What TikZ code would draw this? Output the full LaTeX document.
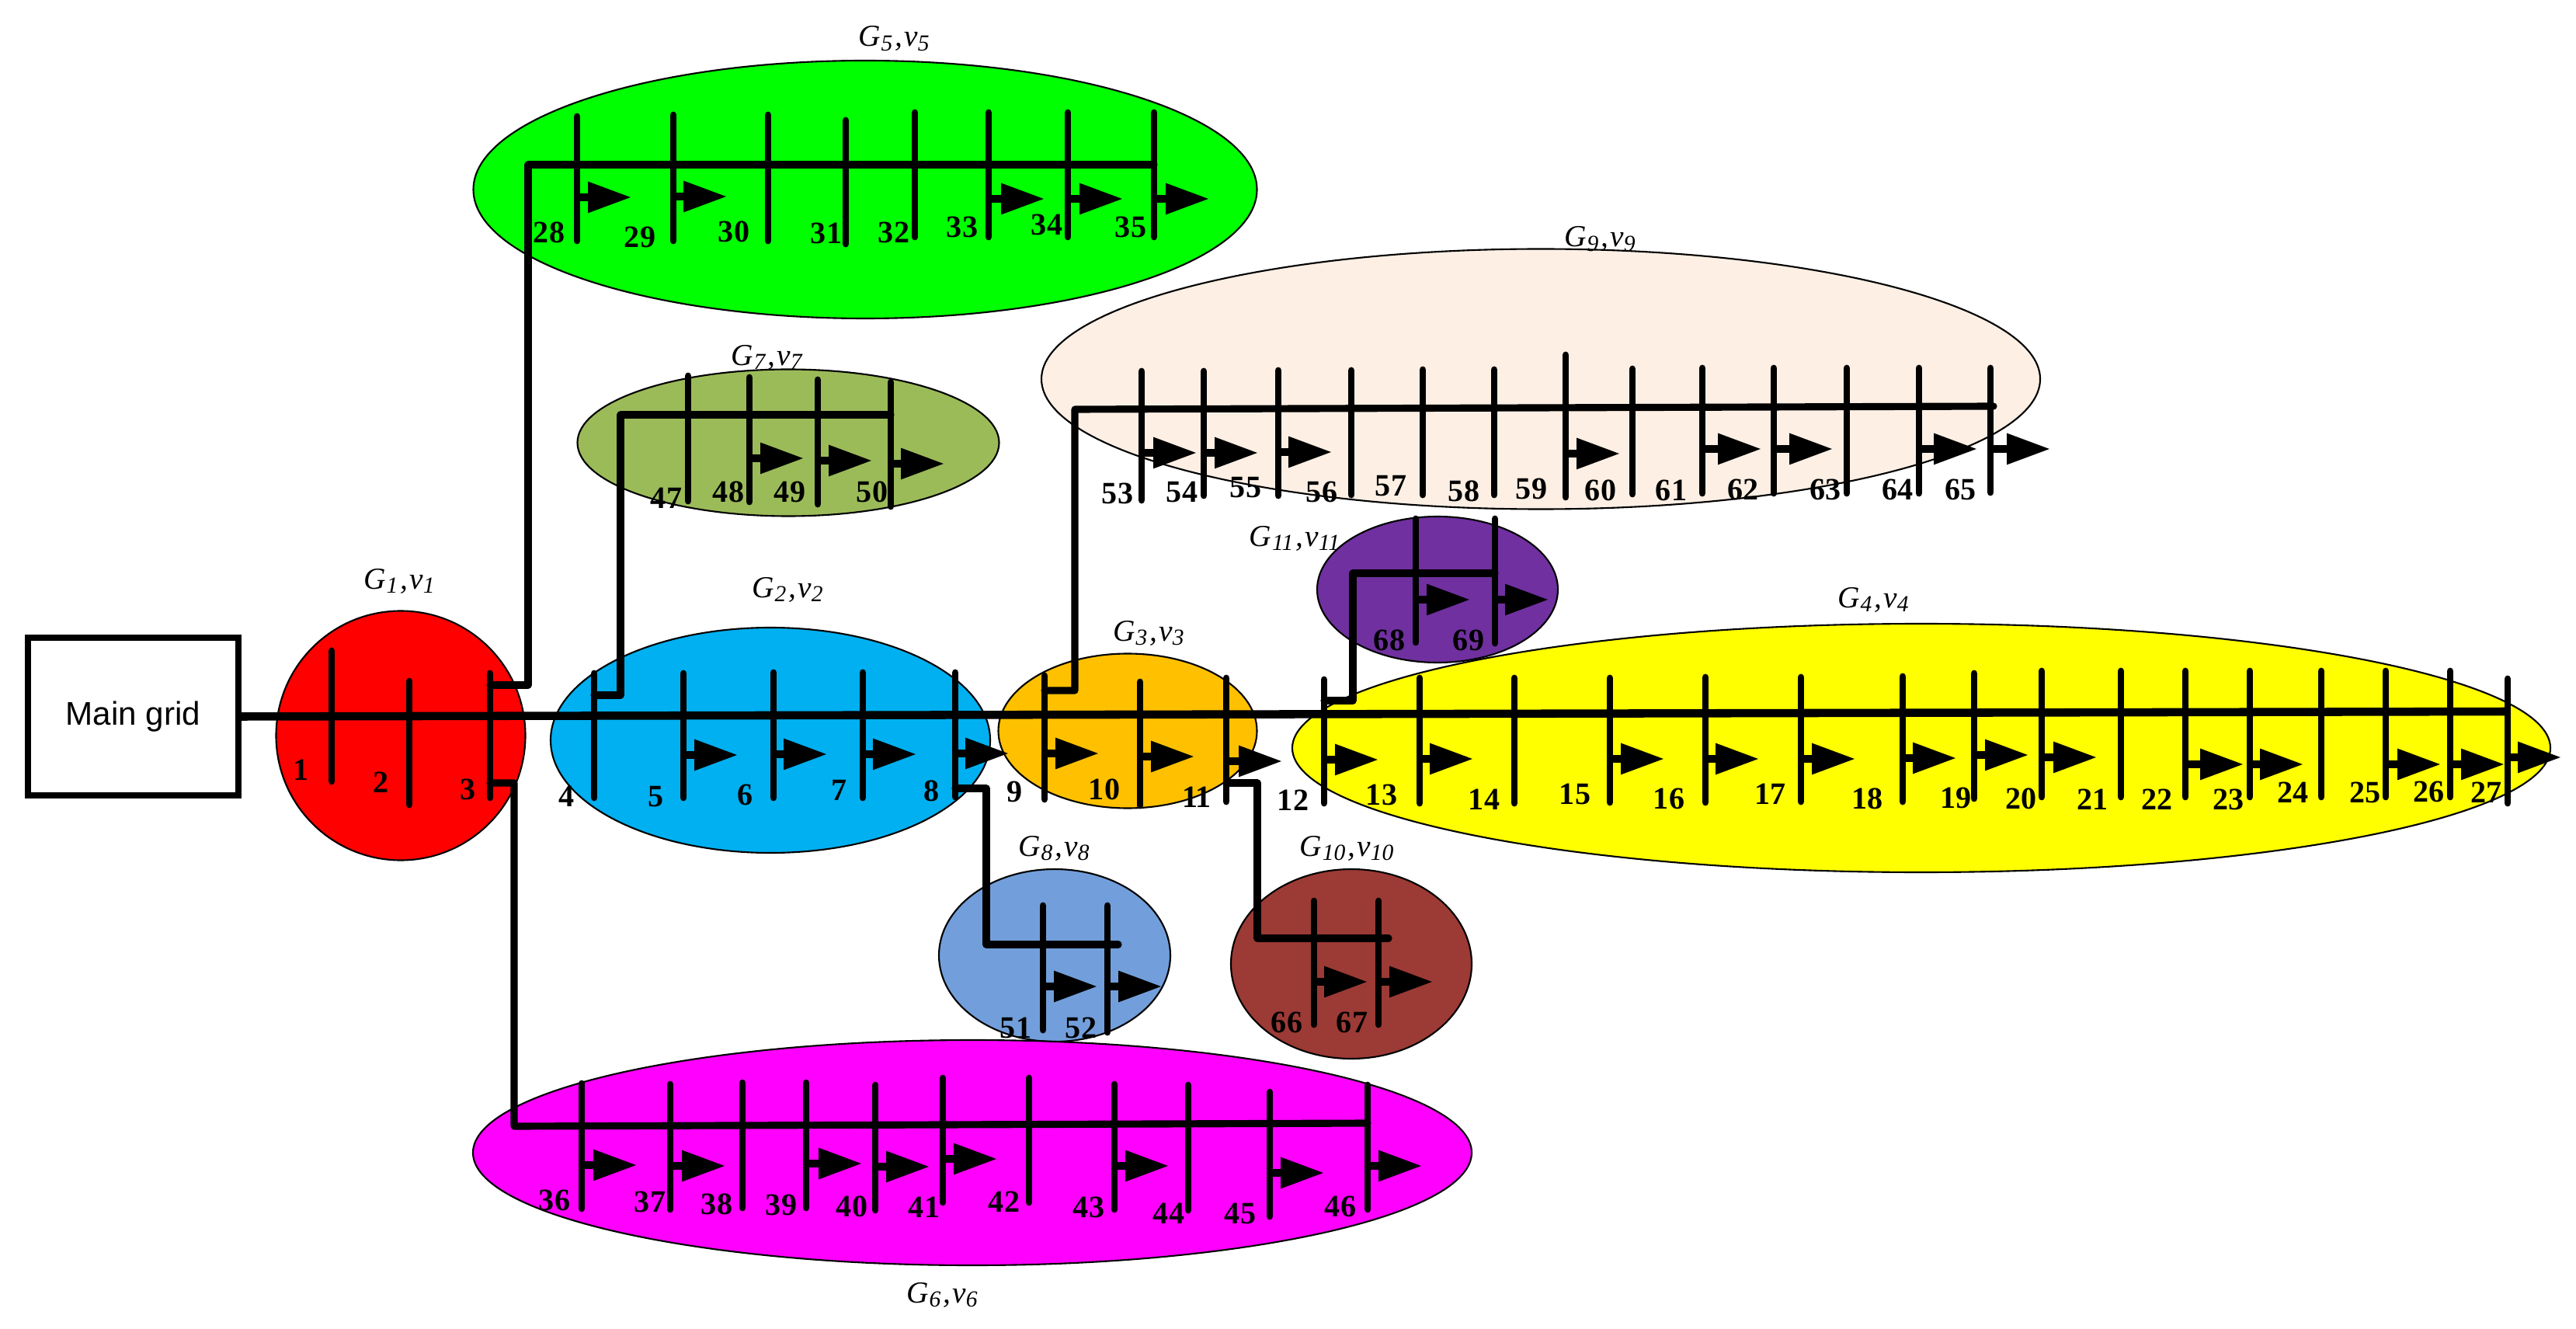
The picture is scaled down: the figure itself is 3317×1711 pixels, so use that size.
\documentclass[tikz,border=0pt]{standalone}
\usepackage{fontspec}
\setmainfont{Liberation Serif}
\newfontfamily\gridfont{Liberation Sans}
\usetikzlibrary{shapes.geometric,arrows.meta,calc}
\definecolor{zRed}{HTML}{FF0000}
\definecolor{zBlue}{HTML}{00B0F0}
\definecolor{zOrange}{HTML}{FFC000}
\definecolor{zYellow}{HTML}{FFFF00}
\definecolor{zGreen}{HTML}{00FF00}
\definecolor{zMagenta}{HTML}{FF00FF}
\definecolor{zOlive}{HTML}{9BBB59}
\definecolor{zSteel}{HTML}{729FDB}
\definecolor{zPeach}{HTML}{FDEFE4}
\definecolor{zBrown}{HTML}{9C3A35}
\definecolor{zPurple}{HTML}{7030A0}
\newcommand{\gvlabel}[1]{\textit{G\kern.02em\raisebox{-.3ex}{\fontsize{8.4pt}{9pt}\selectfont #1}\kern.08em,\kern.05em v\raisebox{-.3ex}{\fontsize{8.4pt}{9pt}\selectfont #1}}}
\tikzset{
  zone/.style n args={3}{ellipse,draw=black,line width=.6pt,fill=#1,inner sep=0pt,outer sep=0pt,
    minimum width=#2*0.1mm,minimum height=#3*0.1mm},
  busbar/.style={draw=black,line width=2.5pt,line cap=round},
  feeder/.style={draw=black,line width=2.6pt,line cap=round,line join=round},
  trunk/.style={draw=black,line width=3pt},
  loadarrow/.style={draw=black,line width=2.6pt,-{Triangle[length=15.9pt,width=10.8pt]}},
  num/.style={font=\fontsize{11.4pt}{12pt}\selectfont\bfseries,inner sep=0pt},
  gv/.style={font=\fontsize{11.2pt}{12pt}\selectfont,inner sep=0pt},
  gridbox/.style={draw=black,line width=2.4pt,fill=white,minimum width=27.1mm,minimum height=20.3mm,
    inner sep=0pt,outer sep=0pt,font=\gridfont\fontsize{12pt}{13pt}\selectfont}
}
\begin{document}
\begin{tikzpicture}[x=.1mm,y=-.1mm]
\path[use as bounding box,fill=white] (0,0) rectangle (3317,1711);
% zones
\node[zone={zGreen}{1009}{332}] (z5) at (1114,244) {};
\node[zone={zPeach}{1286}{335}] (z9) at (1984,488) {};
\node[zone={zOlive}{543}{189}] (z7) at (1015,570) {};
\node[zone={zRed}{321}{321}] (z1) at (516,947) {};
\node[zone={zBlue}{566}{290}] (z2) at (992,953) {};
\node[zone={zOrange}{333}{199}] (z3) at (1452,941) {};
\node[zone={zYellow}{1620}{320}] (z4) at (2474,963) {};
\node[zone={zPurple}{310}{188}] (z11) at (1851,759) {};
\node[zone={zSteel}{298}{222}] (z8) at (1358,1230) {};
\node[zone={zBrown}{310}{244}] (z10) at (1740,1241) {};
\node[zone={zMagenta}{1286}{290}] (z6) at (1252,1484) {};
% main grid
\node[gridbox] (main) at (171.5,922.5) {Main grid};
% bus bars and their numbers: id / x / top / bottom / label x / label y
\foreach \i/\bx/\bt/\bb/\lx/\ly in {
 1/427/838/1006/388/991, 2/527/877/1036/491/1007, 3/631/867/1027/603/1016,
 4/765/867/1027/730/1025, 5/880/867/1027/845/1026, 6/996/866/1027/960/1023,
 7/1111/866/1027/1080/1017, 8/1230/866/1026/1199/1018, 9/1345/870/1029/1306/1019,
 10/1468/878/1037/1422/1016, 11/1579/873/1032/1541/1026, 12/1705/875/1034/1665/1030,
 13/1828/873/1034/1779/1023, 14/1950/873/1034/1911/1029, 15/2073/873/1033/2028/1022,
 16/2196/872/1033/2149/1028, 17/2319/872/1032/2279/1022, 18/2450/871/1032/2404/1028,
 19/2542/867/1028/2518/1027, 20/2629/864/1026/2602/1028, 21/2731/864/1026/2694/1029,
 22/2814/864/1026/2777/1029, 23/2897/864/1026/2869/1029, 24/2989/864/1026/2952/1020,
 25/3072/864/1026/3045/1020, 26/3155/864/1026/3127/1019, 27/3229/874/1034/3201/1020,
 28/743/150/310/707/299, 29/867/148/310/824/305, 30/989/148/310/945/298,
 31/1089/155/314/1064/300, 32/1178/145/305/1151/299, 33/1273/145/305/1239/292,
 34/1375/145/305/1348/289, 35/1486/145/305/1456/292,
 36/749/1395/1556/714/1545, 37/863/1396/1557/837/1547, 38/956/1394/1555/923/1550,
 39/1038/1394/1555/1006/1551, 40/1127/1397/1558/1097/1553, 41/1214/1388/1548/1190/1554,
 42/1325/1388/1548/1293/1547, 43/1435/1396/1557/1402/1554, 44/1530/1397/1558/1505/1562,
 45/1635/1406/1566/1597/1562, 46/1761/1397/1557/1726/1553,
 47/886/484/645/858/641, 48/965/486/646/938/633, 49/1053/489/649/1017/633, 50/1147/492/652/1123/633,
 51/1343/1166/1326/1308/1323, 52/1426/1166/1329/1392/1323,
 53/1470/478/644/1439/635, 54/1550/478/638/1522/634, 55/1646/477/638/1604/628,
 56/1740/477/637/1702/633, 57/1832/476/637/1791/626, 58/1924/476/637/1885/632,
 59/2016/457/640/1972/629, 60/2102/475/636/2061/631, 61/2192/474/635/2152/631,
 62/2284/474/635/2244/630, 63/2378/474/635/2350/630, 64/2471/474/635/2443/630, 65/2563/474/634/2524/630,
 66/1692/1160/1319/1657/1316, 67/1775/1160/1319/1741/1316,
 68/1823/668/827/1789/824, 69/1925/668/828/1891/824}{
  \coordinate (bt\i) at (\bx,\bt);
  \coordinate (bb\i) at (\bx,\bb);
  \draw[busbar] (bt\i) -- (bb\i);
  \node[num] (n\i) at (\lx,\ly) {\i};
}
% trunk
\coordinate (trunkend) at (3229,916);
\draw[trunk] (main.east) -- (trunkend);
% feeders
\coordinate (c28a) at (680,882); \coordinate (c28b) at (680,212);
\draw[feeder] (bt3 |- c28a) -- (c28a) -- (c28b) -- (bt35 |- c28b);
\coordinate (c36a) at (662,1008); \coordinate (c36b) at (662,1450); \coordinate (c36c) at (1761,1446);
\draw[feeder] (bt3 |- c36a) -- (c36a) -- (c36b) -- (c36c);
\coordinate (c47a) at (799,895); \coordinate (c47b) at (799,534);
\draw[feeder] (bt4 |- c47a) -- (c47a) -- (c47b) -- (bt50 |- c47b);
\coordinate (c53a) at (1384,889); \coordinate (c53b) at (1384,527); \coordinate (c53c) at (2567,523);
\draw[feeder] (bt9 |- c53a) -- (c53a) -- (c53b) -- (c53c);
\coordinate (c51a) at (1270,1015); \coordinate (c51b) at (1270,1216); \coordinate (c51c) at (1440,1216);
\draw[feeder] (bt8 |- c51a) -- (c51a) -- (c51b) -- (c51c);
\coordinate (c66a) at (1619,1008); \coordinate (c66b) at (1619,1208); \coordinate (c66c) at (1788,1208);
\draw[feeder] (bt11 |- c66a) -- (c66a) -- (c66b) -- (c66c);
\coordinate (c68a) at (1742,902); \coordinate (c68b) at (1742,738);
\draw[feeder] (bt12 |- c68a) -- (c68a) -- (c68b) -- (bt69 |- c68b);
% loads: id / y / tip x
\foreach \i/\ay/\tx in {
 5/972/950, 6/971/1065, 7/971/1180, 8/970/1299, 9/970/1415, 10/974/1538, 11/980/1651, 12/978/1775,
 13/977/1897, 15/977/2143, 16/977/2265, 17/977/2389, 18/976/2519, 19/972/2612, 20/975/2700,
 22/984/2889, 23/984/2966, 25/984/3143, 26/984/3225, 27/975/3298,
 28/254/813, 29/253/936, 33/256/1345, 34/256/1446, 35/256/1557,
 36/1500/820, 37/1501/934, 39/1498/1110, 40/1502/1197, 41/1492/1284, 43/1501/1505, 45/1510/1705, 46/1501/1831,
 48/590/1035, 49/593/1123, 50/597/1216,
 51/1270/1413, 52/1270/1496,
 53/583/1541, 54/583/1620, 55/582/1715, 59/584/2086, 61/578/2268, 62/578/2360, 64/578/2546, 65/578/2640,
 66/1264/1761, 67/1264/1845, 68/772/1893, 69/772/1994}{
  \coordinate (tip\i) at (\tx,\ay);
  \draw[loadarrow] (bt\i |- tip\i) -- (tip\i);
}
% zone captions
\foreach \k/\gx/\gy in {1/514/748,2/1014/759,3/1479/815,4/2412/772,5/1151/50,6/1213/1667,7/987/460,8/1357/1092,9/2060/308,10/1734/1092,11/1667/693}{
  \node[gv] (g\k) at (\gx,\gy) {\gvlabel{\k}};
}
\end{tikzpicture}
\end{document}
